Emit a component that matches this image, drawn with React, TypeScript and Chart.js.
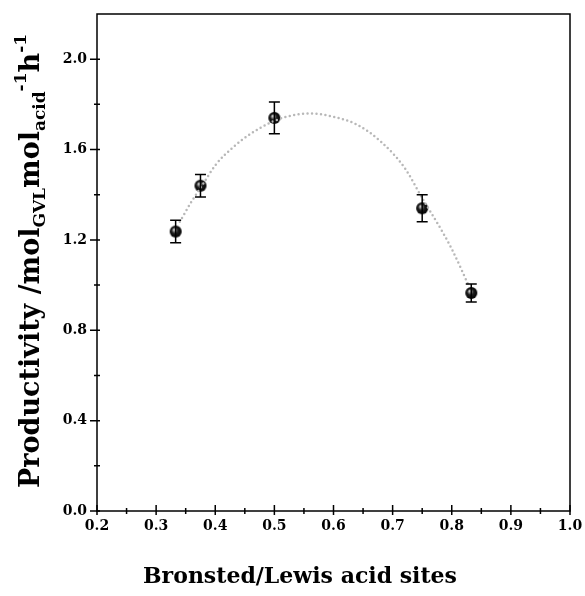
import React, { useEffect, useRef } from "react";
import { Chart, registerables } from "chart.js";

Chart.register(...registerables);

const ratioX = [0.333, 0.375, 0.5, 0.75, 0.833];
const productivity = [1.237, 1.44, 1.74, 1.34, 0.965];
const productivityErr = [0.05, 0.05, 0.07, 0.06, 0.04];

const fitX = [0.34, 0.36, 0.38, 0.4, 0.43, 0.46, 0.49, 0.52, 0.56, 0.6, 0.64, 0.68, 0.72, 0.75, 0.78, 0.8, 0.83];
const fitY = [1.28, 1.37, 1.45, 1.53, 1.61, 1.67, 1.715, 1.745, 1.76, 1.745, 1.71, 1.635, 1.52, 1.385, 1.255, 1.16, 0.99];

const xTicks = [0.2, 0.3, 0.4, 0.5, 0.6, 0.7, 0.8, 0.9, 1.0];
const xMinorTicks = [0.25, 0.35, 0.45, 0.55, 0.65, 0.75, 0.85, 0.95];
const yTicks = [0.0, 0.4, 0.8, 1.2, 1.6, 2.0];
const yMinorTicks = [0.2, 0.6, 1.0, 1.4, 1.8];

const xTitle = "Bronsted/Lewis acid sites";

const FONT = "'DejaVu Serif', serif";

function makeSphere(r: number): HTMLCanvasElement {
  const c = document.createElement("canvas");
  const s = Math.ceil(r * 2) + 2;
  c.width = s;
  c.height = s;
  const g = c.getContext("2d")!;
  const cx = s / 2;
  const cy = s / 2;
  const grad = g.createRadialGradient(cx - r * 0.3, cy - r * 0.35, 0, cx, cy, r);
  grad.addColorStop(0, "#f4f4f4");
  grad.addColorStop(0.2, "#a0a0a0");
  grad.addColorStop(0.5, "#202020");
  grad.addColorStop(1, "#000000");
  g.fillStyle = grad;
  g.beginPath();
  g.arc(cx, cy, r, 0, Math.PI * 2);
  g.fill();
  return c;
}

const errorBarPlugin = {
  id: "errorBars",
  afterDatasetsDraw(chart: any) {
    const { ctx, scales } = chart;
    const xs = scales.x;
    const ys = scales.y;
    ctx.save();
    ctx.strokeStyle = "#000";
    ctx.lineWidth = 1.5;
    for (let i = 0; i < ratioX.length; i++) {
      const px = xs.getPixelForValue(ratioX[i]);
      const top = ys.getPixelForValue(productivity[i] + productivityErr[i]);
      const bot = ys.getPixelForValue(productivity[i] - productivityErr[i]);
      const cap = 5.5;
      ctx.beginPath();
      ctx.moveTo(px, top);
      ctx.lineTo(px, bot);
      ctx.moveTo(px - cap, top);
      ctx.lineTo(px + cap, top);
      ctx.moveTo(px - cap, bot);
      ctx.lineTo(px + cap, bot);
      ctx.stroke();
    }
    ctx.restore();
  },
};

const framePlugin = {
  id: "frame",
  afterDraw(chart: any) {
    const { ctx, chartArea, scales } = chart;
    const { left, right, top, bottom } = chartArea;
    ctx.save();
    ctx.strokeStyle = "#000";
    ctx.lineWidth = 1.5;
    ctx.strokeRect(left, top, right - left, bottom - top);
    ctx.beginPath();
    xTicks.forEach((v) => {
      const p = scales.x.getPixelForValue(v);
      ctx.moveTo(p, bottom - 6);
      ctx.lineTo(p, bottom + 4);
    });
    xMinorTicks.forEach((v) => {
      const p = scales.x.getPixelForValue(v);
      ctx.moveTo(p, bottom - 3);
      ctx.lineTo(p, bottom + 3);
    });
    yTicks.forEach((v) => {
      const p = scales.y.getPixelForValue(v);
      ctx.moveTo(left - 7, p);
      ctx.lineTo(left + 3, p);
    });
    yMinorTicks.forEach((v) => {
      const p = scales.y.getPixelForValue(v);
      ctx.moveTo(left - 3, p);
      ctx.lineTo(left + 3, p);
    });
    ctx.stroke();

    // x-axis title
    ctx.fillStyle = "#000";
    ctx.font = `bold 22px ${FONT}`;
    ctx.textAlign = "center";
    ctx.textBaseline = "middle";
    ctx.fillText(xTitle, 300, 577);

    // y-axis title with sub/superscripts
    const main = `bold 27px ${FONT}`;
    const small = `bold 17px ${FONT}`;
    const segs: [string, string, number][] = [
      ["Productivity /mol", main, 0],
      ["GVL", small, 6],
      ["mol", main, 0],
      ["acid", small, 6],
      ["-1", small, -13],
      ["h", main, 0],
      ["-1", small, -13],
    ];
    let total = 0;
    const widths = segs.map(([t, f]) => {
      ctx.font = f;
      const w = ctx.measureText(t).width;
      total += w;
      return w;
    });
    ctx.translate(39, 261);
    ctx.rotate(-Math.PI / 2);
    ctx.textBaseline = "alphabetic";
    ctx.textAlign = "left";
    let x = -total / 2;
    segs.forEach(([t, f, dy], i) => {
      ctx.font = f;
      ctx.fillText(t, x, dy);
      x += widths[i];
    });
    ctx.restore();
  },
};

function zeroPad(s: any) {
  s.paddingLeft = 0;
  s.paddingRight = 0;
  s.paddingTop = 0;
  s.paddingBottom = 0;
}

export default function App() {
  const ref = useRef<HTMLCanvasElement | null>(null);
  useEffect(() => {
    if (!ref.current) return;
    const sphere = makeSphere(6);
    const chart = new Chart(ref.current, {
      type: "scatter",
      data: {
        datasets: [
          {
            type: "line",
            label: "fit",
            data: fitX.map((x, i) => ({ x, y: fitY[i] })),
            borderColor: "#b8b8b8",
            borderWidth: 2.5,
            borderDash: [0, 4.5],
            borderCapStyle: "round",
            pointRadius: 0,
            tension: 0.4,
            cubicInterpolationMode: "monotone",
            fill: false,
          } as any,
          {
            label: "Productivity",
            data: ratioX.map((x, i) => ({ x, y: productivity[i] })),
            pointStyle: sphere as any,
            pointRadius: 6,
            backgroundColor: "#000",
            borderColor: "#000",
          },
        ],
      },
      options: {
        animation: false,
        responsive: true,
        maintainAspectRatio: false,
        layout: { autoPadding: false, padding: { left: 0, right: 15, top: 14, bottom: 0 } },
        plugins: { legend: { display: false }, tooltip: { enabled: false } },
        scales: {
          x: {
            type: "linear",
            min: 0.2,
            max: 1.0,
            grid: { display: false, drawTicks: false },
            border: { display: false },
            afterBuildTicks: (s: any) => {
              s.ticks = xTicks.map((v) => ({ value: v }));
            },
            afterFit: (s: any) => {
              s.height = 85;
              zeroPad(s);
            },
            ticks: {
              color: "#000",
              padding: 7,
              font: { family: FONT, size: 14, weight: "bold" },
              callback: (v: any) => Number(v).toFixed(1),
            },
          },
          y: {
            type: "linear",
            min: 0,
            max: 2.2,
            grid: { display: false, drawTicks: false },
            border: { display: false },
            afterBuildTicks: (s: any) => {
              s.ticks = yTicks.map((v) => ({ value: v }));
            },
            afterFit: (s: any) => {
              s.width = 97;
              zeroPad(s);
            },
            ticks: {
              color: "#000",
              padding: 10,
              font: { family: FONT, size: 14, weight: "bold" },
              callback: (v: any) => Number(v).toFixed(1),
            },
          },
        },
      },
      plugins: [errorBarPlugin, framePlugin],
    } as any);
    return () => chart.destroy();
  }, []);
  return (
    <div style={{ position: "absolute", left: 0, top: 0, width: 585, height: 596, background: "#fff" }}>
      <canvas ref={ref} />
    </div>
  );
}
